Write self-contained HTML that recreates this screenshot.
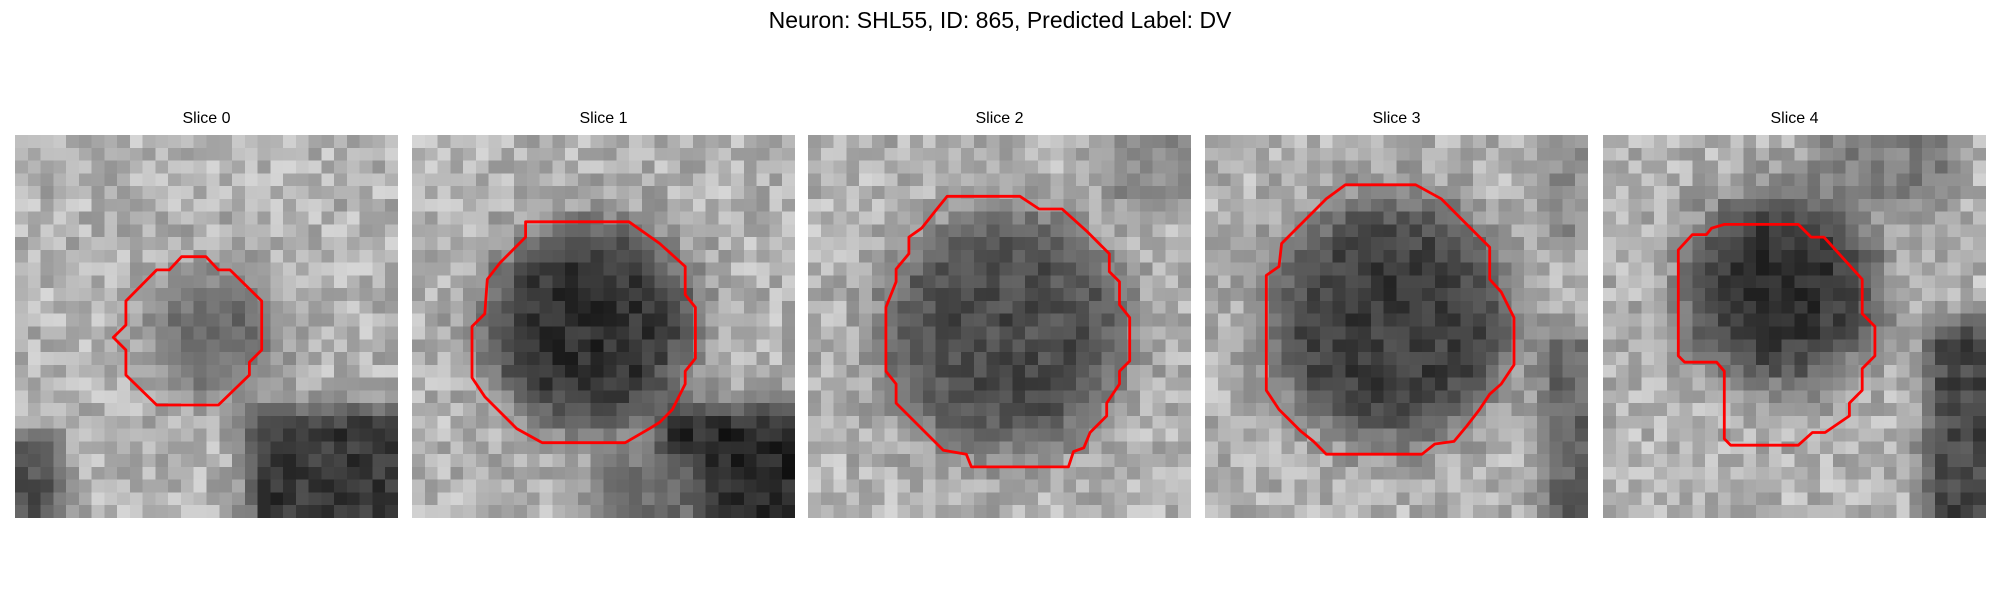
<!DOCTYPE html>
<html><head><meta charset="utf-8">
<style>
body{margin:0;background:#fff;width:2000px;height:600px;overflow:hidden;font-family:"Liberation Sans","DejaVu Sans",sans-serif;}
#root{position:relative;width:2000px;height:600px;}
.sup{position:absolute;top:7px;left:0;width:2000px;text-align:center;font-size:23px;color:#000;}
.panel{position:absolute;top:135px;width:383px;height:383px;}
.panel canvas{position:absolute;left:0;top:0;width:383px;height:383px;image-rendering:pixelated;}
.panel svg{position:absolute;left:0;top:0;}
.ptitle{position:absolute;top:110px;width:383px;text-align:center;font-size:16px;color:#000;}
</style></head>
<body>
<div id="root">
<div class="sup">Neuron: SHL55, ID: 865, Predicted Label: DV</div>
</div>
<script>
// Contour vertices per slice (cell units, 30x30 grid)
const slice0X=[13.05,14.96,15.93,16.84,19.32,19.32,18.36,18.36,15.93,11.1,8.69,8.69,7.7,8.69,8.69,11.1,12.09];
const slice0Y=[9.53,9.53,10.57,10.57,13.0,16.84,17.8,18.8,21.15,21.15,18.8,16.84,15.85,14.88,13.0,10.57,10.57];
const slice1X=[8.9,17,19.4,21.4,21.4,22.2,22.2,21.4,21.4,20.4,19.4,18.6,16.7,10.2,8.2,5.7,4.7,4.7,5.7,5.9,6.9,8.9];
const slice1Y=[6.8,6.8,8.5,10.3,12.5,13.5,17.5,18.5,19.5,21.5,22.5,23,24.1,24.1,23,20.5,19,15,14,11.3,10,8];
const slice2X=[10.9,16.6,18.1,19.9,21.8,23.6,23.6,24.4,24.4,25.2,25.2,24.4,24.4,23.4,23.4,22.1,21.6,20.8,20.4,12.8,12.4,10.6,6.9,6.9,6.1,6.1,6.9,6.9,7.9,7.9,8.9,10.1];
const slice2Y=[4.8,4.8,5.8,5.8,7.5,9.3,10.7,11.5,13.3,14.3,17.7,18.5,19.5,21,22,23.3,24.5,24.8,26,26,25,24.7,21,19.5,18.5,13.5,11.5,10.5,9.3,8,7.3,5.8];
const slice3X=[11,16.5,18.5,22.3,22.3,23.2,24.2,24.2,23.2,22.3,21.5,20.5,19.5,18,17,9.5,8.5,7.5,5.8,4.8,4.8,5.8,6,9.5];
const slice3Y=[3.9,3.9,5,8.8,11.3,12.3,14.3,18,19.5,20.3,21.5,22.8,24,24.2,25,25,24,23.2,21.5,20,11,10.3,8.5,5];
const slice4X=[9.5,15.3,16.3,17.3,20.3,20.3,21.3,21.3,20.3,20.3,19.3,19.3,17.4,16.4,15.3,10,9.5,9.5,8.9,6.4,5.9,5.9,7,8.1,8.5];
const slice4Y=[7,7,8,8,11.3,14,15,17.3,18.3,20,21,22,23.3,23.3,24.3,24.3,23.8,18.5,17.8,17.8,17.3,9,7.8,7.8,7.3];
const sliceNames=["Slice 0","Slice 1","Slice 2","Slice 3","Slice 4"];
const panelLeft=[15,412,808,1205,1603];
// texture descriptors: blob center x, y, radius, darkness
const blobs=[[15.5,15.5,4.5,95],[14,15,8,45],[15.5,15.5,9.5,75],[14.5,14.5,9.5,60],[14,12,7.5,50]];
// dark zones: x0,y0,x1,y1,value
const darkZones=[
 [[20,23,30,30,55],[0,25,2,30,80]],
 [[21,23,30,30,40],[16,27,21,30,110]],
 [[25,0,30,4,135]],
 [[28,17,30,30,100],[28,0,30,7,140]],
 [[27,16,30,30,70],[18,0,26,4,125]]
];
const conts=[[slice0X,slice0Y],[slice1X,slice1Y],[slice2X,slice2Y],[slice3X,slice3Y],[slice4X,slice4Y]];
let seed=12345;
function rnd(){seed=(seed*1103515245+12345)%2147483648;return seed/2147483648;}
const root=document.getElementById('root');
const N=30,S=383/30;
for(let p=0;p<5;p++){
  const t=document.createElement('div');
  t.className='ptitle';t.style.left=panelLeft[p]+'px';t.textContent=sliceNames[p];
  
  
  root.appendChild(t);
  const d=document.createElement('div');
  d.className='panel';d.style.left=panelLeft[p]+'px';
  
  
  const c=document.createElement('canvas');c.width=N;c.height=N;
  
  
  const ctx=c.getContext('2d');
  const [bx,by,br,bv]=blobs[p];
  for(let y=0;y<N;y++)for(let x=0;x<N;x++){
    let v=180+(rnd()-0.5)*70;
    const dx=x+0.5-bx,dy=y+0.5-by,r=Math.sqrt(dx*dx+dy*dy);
    const w=1/(1+Math.exp((r-br)/1.2));
    v=v*(1-w)+(bv+(rnd()-0.5)*50)*w;
    for(const z of darkZones[p]){
      const ex=Math.max(z[0]-(x+0.5),0,(x+0.5)-z[2]);
      const ey=Math.max(z[1]-(y+0.5),0,(y+0.5)-z[3]);
      const dd=Math.sqrt(ex*ex+ey*ey);
      const zw=Math.exp(-dd*dd/4);
      v=v*(1-zw)+(z[4]+(rnd()-0.5)*50)*zw;
    }
    v=Math.max(0,Math.min(255,Math.round(v)));
    ctx.fillStyle=`rgb(${v},${v},${v})`;ctx.fillRect(x,y,1,1);
  }
  d.appendChild(c);
  const ns='http://www.w3.org/2000/svg';
  const svg=document.createElementNS(ns,'svg');
  svg.setAttribute('width',383);svg.setAttribute('height',383);
  const pl=document.createElementNS(ns,'polygon');
  const [cx,cy]=conts[p];
  pl.setAttribute('points',cx.map((v,i)=>(v*S).toFixed(1)+','+(cy[i]*S).toFixed(1)).join(' '));
  pl.setAttribute('fill','none');pl.setAttribute('stroke','#ff0000');pl.setAttribute('stroke-width','2.8');
  pl.setAttribute('stroke-linejoin','round');
  
  
  svg.appendChild(pl);
  d.appendChild(svg);
  root.appendChild(d);
}
</script>
</body></html>
